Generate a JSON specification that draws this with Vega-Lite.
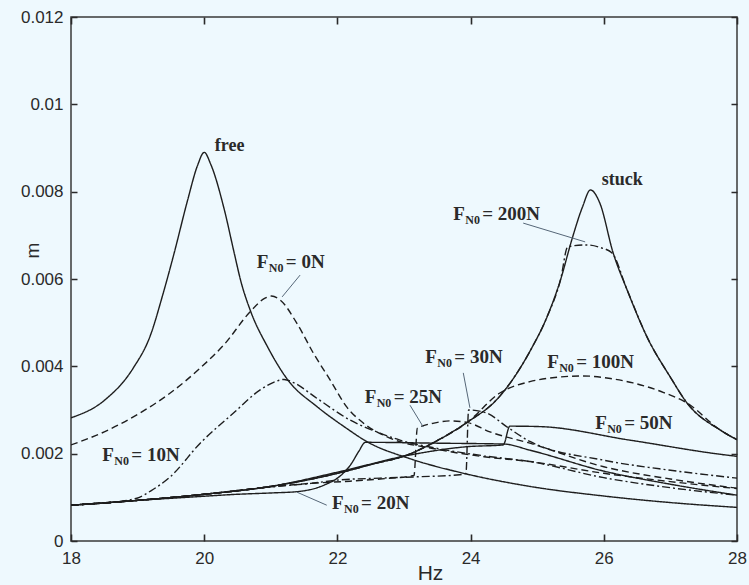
{
  "$schema": "https://vega.github.io/schema/vega-lite/v6.json",
  "width": 666,
  "height": 524,
  "autosize": {"type": "none"},
  "padding": {"left": 71, "top": 17, "right": 12, "bottom": 44},
  "background": "#EEF9FE",
  "config": {
    "view": {"stroke": "#3a3a3a", "strokeWidth": 1.5, "fill": "#EEF9FE"},
    "axis": {"domain": false, "ticks": false, "tickSize": 0, "grid": true, "gridColor": "#2a2a2a", "gridWidth": 1.6, "gridOpacity": 1, "zindex": 1, "labelFont": "Liberation Sans", "labelFontSize": 17, "labelColor": "#2a2a2a", "titleFont": "Liberation Sans", "titleFontWeight": "normal", "titleColor": "#2a2a2a"},
    "text": {"font": "Liberation Serif", "fontWeight": "bold", "color": "#2a2a2a"}
  },
  "datasets": {
    "curves": [
      {"s":"free","x":18,"y":0.00282},{"s":"free","x":18.5,"y":0.00322},{"s":"free","x":18.93,"y":0.00395},{"s":"free","x":19.19,"y":0.0047},{"s":"free","x":19.38,"y":0.00565},{"s":"free","x":19.55,"y":0.0066},{"s":"free","x":19.75,"y":0.0078},{"s":"free","x":19.9,"y":0.0086},{"s":"free","x":20,"y":0.0089},{"s":"free","x":20.1,"y":0.00862},{"s":"free","x":20.3,"y":0.0076},{"s":"free","x":20.45,"y":0.0066},{"s":"free","x":20.55,"y":0.00595},{"s":"free","x":20.7,"y":0.00525},{"s":"free","x":20.95,"y":0.00445},{"s":"free","x":21.25,"y":0.0037},{"s":"free","x":21.7,"y":0.00307},{"s":"free","x":22.1,"y":0.00262},{"s":"free","x":22.45,"y":0.00227},{"s":"free","x":23.1,"y":0.00188},{"s":"free","x":23.84,"y":0.00157},{"s":"free","x":24.85,"y":0.00126},{"s":"free","x":26,"y":0.00103},{"s":"free","x":27,"y":0.00088},{"s":"free","x":28,"y":0.00077},
      {"s":"stuck","x":18,"y":0.00082},{"s":"stuck","x":19,"y":0.00093},{"s":"stuck","x":20,"y":0.00107},{"s":"stuck","x":21,"y":0.00125},{"s":"stuck","x":22,"y":0.00155},{"s":"stuck","x":22.5,"y":0.00175},{"s":"stuck","x":23.1,"y":0.002},{"s":"stuck","x":23.5,"y":0.0023},{"s":"stuck","x":23.96,"y":0.00273},{"s":"stuck","x":24.4,"y":0.00325},{"s":"stuck","x":24.9,"y":0.00437},{"s":"stuck","x":25.15,"y":0.00514},{"s":"stuck","x":25.35,"y":0.00598},{"s":"stuck","x":25.52,"y":0.0069},{"s":"stuck","x":25.68,"y":0.00765},{"s":"stuck","x":25.8,"y":0.00804},{"s":"stuck","x":25.94,"y":0.00774},{"s":"stuck","x":26.14,"y":0.0066},{"s":"stuck","x":26.35,"y":0.00575},{"s":"stuck","x":26.65,"y":0.00467},{"s":"stuck","x":27,"y":0.00375},{"s":"stuck","x":27.25,"y":0.00316},{"s":"stuck","x":27.75,"y":0.00254},{"s":"stuck","x":28,"y":0.00232},
      {"s":"0N","x":18,"y":0.0022},{"s":"0N","x":18.5,"y":0.0025},{"s":"0N","x":19,"y":0.0029},{"s":"0N","x":19.5,"y":0.0034},{"s":"0N","x":19.94,"y":0.00396},{"s":"0N","x":20.3,"y":0.0045},{"s":"0N","x":20.69,"y":0.00525},{"s":"0N","x":20.9,"y":0.00555},{"s":"0N","x":21.01,"y":0.00561},{"s":"0N","x":21.14,"y":0.00552},{"s":"0N","x":21.39,"y":0.00499},{"s":"0N","x":21.64,"y":0.0043},{"s":"0N","x":21.89,"y":0.00369},{"s":"0N","x":22.14,"y":0.00307},{"s":"0N","x":22.39,"y":0.0027},{"s":"0N","x":22.74,"y":0.00239},{"s":"0N","x":23.5,"y":0.0021},{"s":"0N","x":24.2,"y":0.00193},{"s":"0N","x":24.89,"y":0.00182},{"s":"0N","x":26,"y":0.00155},{"s":"0N","x":27,"y":0.00136},{"s":"0N","x":28,"y":0.0012},
      {"s":"10N","x":18,"y":0.00082},{"s":"10N","x":18.5,"y":0.00087},{"s":"10N","x":18.99,"y":0.00098},{"s":"10N","x":19.2,"y":0.00115},{"s":"10N","x":19.49,"y":0.00147},{"s":"10N","x":19.94,"y":0.00224},{"s":"10N","x":20.44,"y":0.00293},{"s":"10N","x":20.84,"y":0.00346},{"s":"10N","x":21.05,"y":0.00364},{"s":"10N","x":21.2,"y":0.0037},{"s":"10N","x":21.35,"y":0.00362},{"s":"10N","x":21.69,"y":0.00327},{"s":"10N","x":22.19,"y":0.00277},{"s":"10N","x":22.64,"y":0.00247},{"s":"10N","x":22.94,"y":0.00231},{"s":"10N","x":23.5,"y":0.00212},{"s":"10N","x":24.2,"y":0.00195},{"s":"10N","x":24.89,"y":0.00182},{"s":"10N","x":26,"y":0.00145},{"s":"10N","x":27,"y":0.00122},{"s":"10N","x":28,"y":0.00105},
      {"s":"20N","x":18,"y":0.00082},{"s":"20N","x":19,"y":0.00093},{"s":"20N","x":19.74,"y":0.001},{"s":"20N","x":20.5,"y":0.00107},{"s":"20N","x":21,"y":0.0011},{"s":"20N","x":21.39,"y":0.00113},{"s":"20N","x":21.8,"y":0.00128},{"s":"20N","x":22.05,"y":0.0015},{"s":"20N","x":22.2,"y":0.00175},{"s":"20N","x":22.32,"y":0.00205},{"s":"20N","x":22.42,"y":0.00226},{"s":"20N","x":23.5,"y":0.00224},{"s":"20N","x":24.5,"y":0.00222},{"s":"20N","x":24.89,"y":0.00208},{"s":"20N","x":26,"y":0.0016},{"s":"20N","x":27,"y":0.0013},{"s":"20N","x":28,"y":0.00105},
      {"s":"25N","x":18,"y":0.00082},{"s":"25N","x":19,"y":0.00093},{"s":"25N","x":20,"y":0.00107},{"s":"25N","x":21,"y":0.00124},{"s":"25N","x":21.6,"y":0.00132},{"s":"25N","x":22.19,"y":0.00137},{"s":"25N","x":22.64,"y":0.00142},{"s":"25N","x":23.15,"y":0.0015},{"s":"25N","x":23.2,"y":0.00258},{"s":"25N","x":23.45,"y":0.0027},{"s":"25N","x":23.69,"y":0.00275},{"s":"25N","x":23.96,"y":0.00271},{"s":"25N","x":24.29,"y":0.0025},{"s":"25N","x":24.89,"y":0.00224},{"s":"25N","x":26,"y":0.0017},{"s":"25N","x":27,"y":0.00142},{"s":"25N","x":28,"y":0.00121},
      {"s":"30N","x":18,"y":0.00082},{"s":"30N","x":19,"y":0.00093},{"s":"30N","x":20,"y":0.00107},{"s":"30N","x":21,"y":0.00124},{"s":"30N","x":21.6,"y":0.00132},{"s":"30N","x":22.04,"y":0.0014},{"s":"30N","x":22.64,"y":0.00144},{"s":"30N","x":23.2,"y":0.00147},{"s":"30N","x":23.79,"y":0.00151},{"s":"30N","x":23.93,"y":0.00155},{"s":"30N","x":23.97,"y":0.003},{"s":"30N","x":24.24,"y":0.00293},{"s":"30N","x":24.54,"y":0.00262},{"s":"30N","x":24.89,"y":0.00228},{"s":"30N","x":26,"y":0.00185},{"s":"30N","x":27,"y":0.00162},{"s":"30N","x":28,"y":0.00144},
      {"s":"50N","x":18,"y":0.00082},{"s":"50N","x":19,"y":0.00093},{"s":"50N","x":20,"y":0.00107},{"s":"50N","x":21,"y":0.00125},{"s":"50N","x":22.04,"y":0.00159},{"s":"50N","x":23.09,"y":0.00197},{"s":"50N","x":23.95,"y":0.00216},{"s":"50N","x":24.49,"y":0.0022},{"s":"50N","x":24.59,"y":0.00263},{"s":"50N","x":25.04,"y":0.00262},{"s":"50N","x":26.39,"y":0.00231},{"s":"50N","x":27.94,"y":0.00195},{"s":"50N","x":28,"y":0.00194},
      {"s":"100N","x":18,"y":0.00082},{"s":"100N","x":19,"y":0.00093},{"s":"100N","x":20,"y":0.00107},{"s":"100N","x":21,"y":0.00125},{"s":"100N","x":22,"y":0.00155},{"s":"100N","x":22.5,"y":0.00175},{"s":"100N","x":23.1,"y":0.002},{"s":"100N","x":23.5,"y":0.0023},{"s":"100N","x":23.96,"y":0.00273},{"s":"100N","x":24.44,"y":0.00339},{"s":"100N","x":24.89,"y":0.00365},{"s":"100N","x":25.3,"y":0.00375},{"s":"100N","x":25.69,"y":0.00378},{"s":"100N","x":26.1,"y":0.00372},{"s":"100N","x":26.44,"y":0.00362},{"s":"100N","x":26.9,"y":0.0034},{"s":"100N","x":27.25,"y":0.00316},{"s":"100N","x":27.75,"y":0.00254},{"s":"100N","x":28,"y":0.00232},
      {"s":"200N","x":18,"y":0.00082},{"s":"200N","x":19,"y":0.00093},{"s":"200N","x":20,"y":0.00107},{"s":"200N","x":21,"y":0.00125},{"s":"200N","x":22,"y":0.00155},{"s":"200N","x":22.5,"y":0.00175},{"s":"200N","x":23.1,"y":0.002},{"s":"200N","x":23.5,"y":0.0023},{"s":"200N","x":23.96,"y":0.00273},{"s":"200N","x":24.4,"y":0.00325},{"s":"200N","x":24.9,"y":0.00437},{"s":"200N","x":25.15,"y":0.00514},{"s":"200N","x":25.35,"y":0.00598},{"s":"200N","x":25.46,"y":0.00674},{"s":"200N","x":25.74,"y":0.00678},{"s":"200N","x":25.95,"y":0.00672},{"s":"200N","x":26.12,"y":0.0066},{"s":"200N","x":26.35,"y":0.00575},{"s":"200N","x":26.65,"y":0.00467},{"s":"200N","x":27,"y":0.00375},{"s":"200N","x":27.25,"y":0.00316},{"s":"200N","x":27.75,"y":0.00254},{"s":"200N","x":28,"y":0.00232}
    ],
    "leaders": [
      {"x":21.44,"y":0.00609,"x2":21.17,"y2":0.00559},
      {"x":24.79,"y":0.00728,"x2":25.72,"y2":0.00685},
      {"x":23.89,"y":0.00385,"x2":23.99,"y2":0.00305},
      {"x":23.09,"y":0.00311,"x2":23.29,"y2":0.00261},
      {"x":21.39,"y":0.00112,"x2":21.84,"y2":0.00082}
    ],
    "words": [
      {"x":20.16,"y":0.00905,"t":"free"},
      {"x":25.97,"y":0.00827,"t":"stuck"}
    ],
    "flabels": [
      {"x":20.79,"y":0.00639,"rest":"= 0N"},
      {"x":18.47,"y":0.00197,"rest":"= 10N"},
      {"x":21.92,"y":0.00087,"rest":"= 20N"},
      {"x":22.41,"y":0.0033,"rest":"= 25N"},
      {"x":23.32,"y":0.00421,"rest":"= 30N"},
      {"x":25.87,"y":0.0027,"rest":"= 50N"},
      {"x":25.15,"y":0.0041,"rest":"= 100N"},
      {"x":23.74,"y":0.00749,"rest":"= 200N"}
    ]
  },
  "layer": [
    {
      "data": {"name": "curves"},
      "mark": {"type": "line", "color": "#1e1e1e", "strokeWidth": 1.4, "clip": true, "interpolate": "monotone"},
      "encoding": {
        "x": {"field": "x", "type": "quantitative", "scale": {"domain": [18, 28], "nice": false}, "axis": {"orient": "bottom", "values": [18,20,22,24,26,28], "format": "d", "gridDash": [7, 510, 7, 1000], "labelPadding": 9, "title": "Hz", "titleFontSize": 21, "titleX": 359, "titleY": 32, "titleBaseline": "middle", "labelFlush": false}},
        "y": {"field": "y", "type": "quantitative", "scale": {"domain": [0, 0.012], "nice": false}, "axis": {"orient": "left", "values": [0,0.002,0.004,0.006,0.008,0.01,0.012], "labelExpr": "'' + datum.value", "gridDash": [6, 654, 6, 1000], "labelPadding": 8, "title": "m", "titleFontSize": 19, "titleX": -39, "titleY": 233, "titleAngle": -90, "titleBaseline": "middle", "labelFlush": false}},
        "detail": {"field": "s", "type": "nominal"},
        "strokeDash": {"field": "s", "type": "nominal", "legend": null, "scale": {"domain": ["free","stuck","0N","10N","20N","25N","30N","50N","100N","200N"], "range": [[1,0],[1,0],[7,4],[8,3,2,3],[1,0],[7,4],[8,3,2,3],[1,0],[7,4],[8,3,2,3]]}}
      }
    },
    {
      "data": {"name": "leaders"},
      "mark": {"type": "rule", "color": "#566778", "strokeWidth": 1},
      "encoding": {
        "x": {"field": "x", "type": "quantitative"},
        "y": {"field": "y", "type": "quantitative"},
        "x2": {"field": "x2"},
        "y2": {"field": "y2"}
      }
    },
    {
      "data": {"name": "words"},
      "mark": {"type": "text", "fontSize": 18, "align": "left", "baseline": "middle"},
      "encoding": {
        "x": {"field": "x", "type": "quantitative"},
        "y": {"field": "y", "type": "quantitative"},
        "text": {"field": "t"}
      }
    },
    {
      "data": {"name": "flabels"},
      "mark": {"type": "text", "fontSize": 19, "align": "left", "baseline": "middle", "text": "F"},
      "encoding": {
        "x": {"field": "x", "type": "quantitative"},
        "y": {"field": "y", "type": "quantitative"}
      }
    },
    {
      "data": {"name": "flabels"},
      "mark": {"type": "text", "fontSize": 12, "align": "left", "baseline": "middle", "text": "N0", "dx": 12, "dy": 6},
      "encoding": {
        "x": {"field": "x", "type": "quantitative"},
        "y": {"field": "y", "type": "quantitative"}
      }
    },
    {
      "data": {"name": "flabels"},
      "mark": {"type": "text", "fontSize": 19, "align": "left", "baseline": "middle", "dx": 29},
      "encoding": {
        "x": {"field": "x", "type": "quantitative"},
        "y": {"field": "y", "type": "quantitative"},
        "text": {"field": "rest"}
      }
    }
  ]
}
